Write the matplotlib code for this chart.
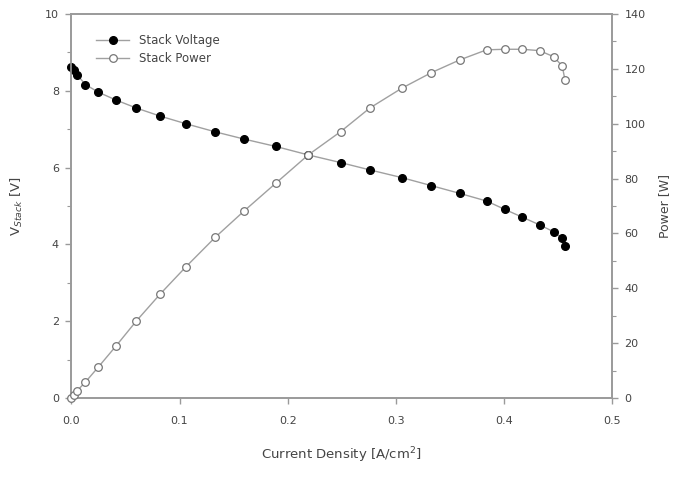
import matplotlib
matplotlib.use("Agg")
import matplotlib.pyplot as plt
from matplotlib.ticker import MultipleLocator, FormatStrFormatter

# Data
current_density = [0.0, 0.002, 0.005, 0.013, 0.025, 0.041, 0.060, 0.082, 0.106,
                   0.133, 0.160, 0.189, 0.219, 0.249, 0.276, 0.3055, 0.333,
                   0.359, 0.384, 0.401, 0.417, 0.433, 0.446, 0.454, 0.4565]
stack_voltage = [8.62, 8.55, 8.42, 8.16, 7.96, 7.76, 7.55, 7.34, 7.14,
                 6.93, 6.74, 6.55, 6.33, 6.13, 5.94, 5.74, 5.53,
                 5.33, 5.13, 4.91, 4.71, 4.51, 4.33, 4.16, 3.95]
stack_power = [0.0, 1.0, 2.6, 5.9, 11.4, 18.9, 28.1, 37.9, 47.9,
               58.6, 68.3, 78.3, 88.6, 97.1, 105.7, 112.9, 118.6,
               123.2, 126.9, 127.1, 127.1, 126.6, 124.4, 121.0, 115.9]

axis_color = "#9a9a9a"
text_color = "#444444"
line_color = "#a0a0a0"

fig = plt.figure(figsize=(6.74, 4.78), dpi=100)
ax = fig.add_axes([0.106, 0.167, 0.802, 0.804])
ax2 = ax.twinx()

# Voltage (left axis)
l1, = ax.plot(current_density, stack_voltage, color=line_color, linewidth=1.0,
              marker="o", markersize=5.5, markerfacecolor="black",
              markeredgecolor="black", label="Stack Voltage", zorder=3,
              clip_on=False)
# Power (right axis)
l2, = ax2.plot(current_density, stack_power, color=line_color, linewidth=1.0,
               marker="o", markersize=5.5, markerfacecolor="white",
               markeredgecolor="#777777", markeredgewidth=0.9,
               label="Stack Power", zorder=3, clip_on=False)

ax.set_xlim(0, 0.5)
ax.set_ylim(0, 10)
ax2.set_ylim(0, 140)

ax.xaxis.set_major_locator(MultipleLocator(0.1))
ax.xaxis.set_major_formatter(FormatStrFormatter("%.1f"))
ax.yaxis.set_major_locator(MultipleLocator(2))
ax.yaxis.set_minor_locator(MultipleLocator(1))
ax2.yaxis.set_major_locator(MultipleLocator(20))
ax2.yaxis.set_minor_locator(MultipleLocator(10))

for a in (ax, ax2):
    for s in a.spines.values():
        s.set_color(axis_color)
        s.set_linewidth(1.2)
    a.tick_params(which="major", direction="out", length=4, width=1,
                  color=axis_color, labelcolor=text_color, labelsize=8,
                  pad=5)
    a.tick_params(which="minor", direction="out", length=3, width=0.8,
                  color=axis_color)
ax.tick_params(axis="x", pad=9)

ax.set_xlabel("Current Density [A/cm$^2$]", color=text_color, fontsize=9.5,
              labelpad=14)
ax.set_ylabel("V$_{Stack}$ [V]", color=text_color, fontsize=9.5, labelpad=14)
# reference has this label clipped at the right edge; keep it just inside
ax2.set_ylabel("Power [W]", color=text_color, fontsize=9, labelpad=9,
               rotation=90)

leg = ax.legend(handles=[l1, l2], loc="upper left", frameon=False,
                fontsize=8.5, handlelength=2.8, borderaxespad=0.8,
                labelspacing=0.45, bbox_to_anchor=(0.02, 0.985))
for t in leg.get_texts():
    t.set_color(text_color)

fig.savefig("out.png", dpi=100)
